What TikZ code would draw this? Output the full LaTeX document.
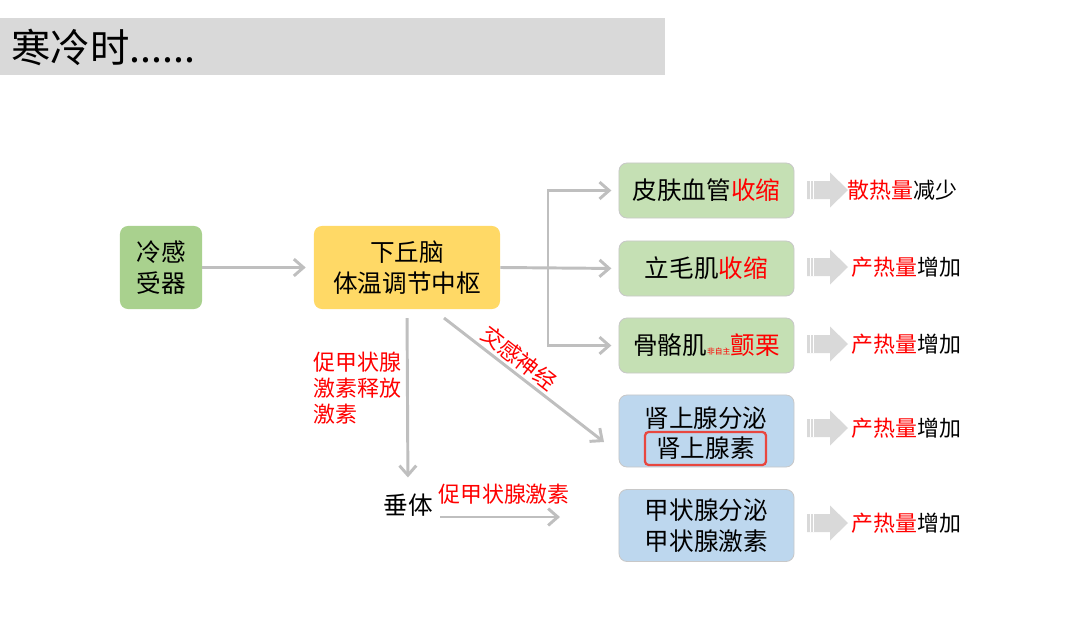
\documentclass[tikz,border=0pt]{standalone}
\usepackage{fontspec}
\setmainfont{Noto Sans CJK SC}
\usepackage{tikz}
\usetikzlibrary{arrows.meta,positioning}
\usepackage{xcolor}
\definecolor{TitleGray}{HTML}{D9D9D9}
\definecolor{LineGray}{HTML}{BFBFBF}
\definecolor{BorderGray}{HTML}{C8C8C8}
\definecolor{DeepGreen}{HTML}{A9D18E}
\definecolor{SoftGreen}{HTML}{C5E0B4}
\definecolor{SoftBlue}{HTML}{BDD7EE}
\definecolor{WarmYellow}{HTML}{FFD966}
\definecolor{AlertRed}{HTML}{FF0000}
\definecolor{FrameRed}{HTML}{E8473F}
\tikzset{
    % Base box style
    basebox/.style={
        rounded corners=0.2cm,
        align=center,
        inner sep=0pt,
        font=\fontsize{17.5}{22.5}\selectfont
    },
    % Receptor and centre
    receptorbox/.style={
        basebox,
        fill=DeepGreen,
        minimum width=2.05cm,
        minimum height=2.075cm
    },
    centrebox/.style={
        basebox,
        fill=WarmYellow,
        minimum width=4.65cm,
        minimum height=2.075cm
    },
    % Effector boxes
    effectbox/.style={
        basebox,
        draw=BorderGray,
        line width=0.6pt,
        fill=SoftGreen,
        minimum width=4.375cm,
        minimum height=1.375cm
    },
    glandbox/.style={
        effectbox,
        fill=SoftBlue,
        minimum height=1.8cm
    },
    % Red frame
    redframe/.style={
        draw=FrameRed,
        line width=1.6pt,
        rounded corners=0.1cm,
        minimum width=3.03cm,
        minimum height=0.83cm,
        inner sep=0pt,
        font=\fontsize{17.5}{22.5}\selectfont
    },
    % Labels
    redlabel/.style={
        text=AlertRed,
        align=left,
        inner sep=0pt,
        font=\fontsize{15.6}{18.5}\selectfont
    },
    resultlabel/.style={
        anchor=west,
        inner sep=0pt,
        font=\fontsize{15.6}{18.5}\selectfont
    },
    % Block arrow (in picture units)
    blockarrow/.pic={
        \fill[TitleGray] (-20.5,-9) -- (2.5,-9) -- (2.5,-17.5) -- (20.5,0)
            -- (2.5,17.5) -- (2.5,9) -- (-20.5,9) -- cycle;
        \draw[white, line width=0.6pt] (-17.5,-9) -- (-17.5,9) (-14,-9) -- (-14,9);
        \coordinate (-tip) at (20.5,0);
    },
    % Connector
    grayarrow/.style={
        -{Straight Barb[length=2.4mm,width=4.2mm]},
        line width=2.1pt,
        draw=LineGray
    }
}

\begin{document}
\begin{tikzpicture}[x=0.025cm, y=-0.025cm]
    \useasboundingbox (0,0) rectangle (1080,618);

    % Title bar
    \fill[TitleGray] (0,18) rectangle (665,75);
    \node[anchor=west, inner sep=0pt, font=\fontsize{28}{30}\selectfont] (title) at (11,47) {寒冷时......};

    % Receptor and centre
    \node[receptorbox] (receptor) at (161,267.5) {冷感\\受器};
    \node[centrebox] (centre) at (407,267.5) {下丘脑\\体温调节中枢};

    % Effectors
    \node[effectbox] (skin) at (706.5,190.5) {皮肤血管\textcolor{AlertRed}{收缩}};
    \node[effectbox] (hair) at (706.5,268.5) {立毛肌\textcolor{AlertRed}{收缩}};
    \node[effectbox] (muscle) at (706.5,345.5) {骨骼肌\textcolor{AlertRed}{{\fontsize{5.5}{6}\selectfont 非自主}颤栗}};
    \node[glandbox] (adrenal) at (706.5,431) {};
    \node[basebox] (adrenaltop) at (706,418) {肾上腺分泌};
    \node[redframe] (epi) at (705.5,448.5) {肾上腺素};
    \node[glandbox] (thyroid) at (706.5,525.5) {甲状腺分泌\\甲状腺激素};

    % Pituitary
    \node[basebox] (pituitary) at (408,505) {垂体};

    % Arrows
    \coordinate (fork) at (548,268);
    \draw[grayarrow, shorten >=0.2cm] (receptor) -- (centre);
    \draw[grayarrow, shorten >=0.18cm] (centre.east) -- (hair.west);
    \draw[grayarrow, shorten >=0.18cm] (fork) |- (skin.west);
    \draw[grayarrow, shorten >=0.18cm] (fork) |- (muscle.west);
    \draw[grayarrow, shorten <=0.22cm, shorten >=0.4cm] (centre.south) -- (pituitary.north);

    \coordinate (sympstart) at (444,318);
    \coordinate (sympend) at (604,442);
    \draw[grayarrow] (sympstart) -- (sympend);

    \coordinate (tshstart) at (440,517);
    \coordinate (tshend) at (560,517);
    \draw[grayarrow] (tshstart) -- (tshend);

    % Arrow labels
    \node[redlabel, anchor=north west] (trh) at (313,352) {促甲状腺\\激素释放\\激素};
    \node[redlabel, rotate=-37.8] (symp) at (519,358) {交感神经};
    \node[redlabel] (tsh) at (504,494) {促甲状腺激素};

    % Results
    \foreach \y/\n in {190/1, 267/2, 344/3, 428/4, 523/5}
        \pic (res\n) at (827.5,\y) {blockarrow};
    \node[resultlabel] at ([xshift=-0.02cm]res1-tip) {\textcolor{AlertRed}{散热量}减少};
    \foreach \n in {2,...,5}
        \node[resultlabel] at ([xshift=0.08cm]res\n-tip) {\textcolor{AlertRed}{产热量}增加};
\end{tikzpicture}
\end{document}
